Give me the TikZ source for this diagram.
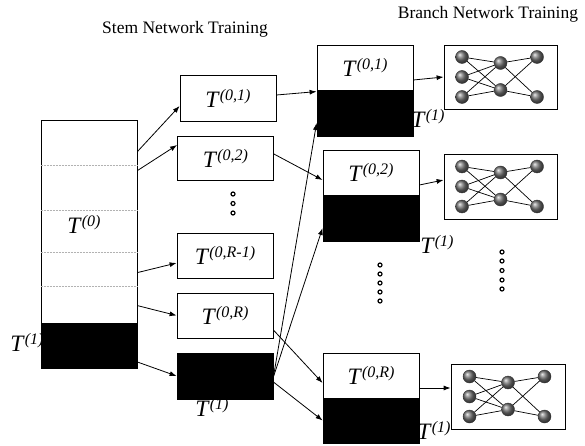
\documentclass[tikz,border=0pt]{standalone}
\usepackage{fontspec}
\setmainfont{Liberation Serif}
\usetikzlibrary{arrows.meta}
\newcommand{\Tlab}[1]{\textit{T}\raisebox{7pt}{\fontsize{16}{16}\selectfont\textit{(#1)}}}

\begin{document}
\begin{tikzpicture}[x=1pt,y=-1pt,>={Latex[length=7pt,width=5pt]},line width=0.8pt,
        box/.style={draw, rectangle, inner sep=0pt, minimum width=96pt, font=\fontsize{23.5}{27}\selectfont},
        blackbox/.style={draw, fill=black, rectangle, inner sep=0pt, minimum width=96pt},
        netbox/.style={draw, rectangle, inner sep=0pt},
        ball/.style={circle, draw=black!80, line width=0.4pt, shading=ball, ball color=gray!90!black, minimum size=13pt, inner sep=0pt},
        tlabel/.style={font=\fontsize{23.5}{27}\selectfont, inner sep=0pt},
        title/.style={font=\fontsize{17.5}{21}\selectfont}]

    \useasboundingbox (0,0) rectangle (585,446);

    \node[title] (stemtitle) at (185,29) {Stem Network Training};
    \node[title] (branchtitle) at (488,14) {Branch Network Training};

    % stem data
    \node[box, minimum height=203pt] (stem) at (89,221.5) {};
    \node[blackbox, minimum height=45pt] (stemk) at (89,345.5) {};
    \foreach \y in {165,210,252,286}
        \draw[gray!60, line width=0.5pt, dash pattern=on 2pt off 1pt] (stem.west |- 0,\y) -- (stem.east |- 0,\y);
    \node[tlabel] (stemlab) at (84,224) {\Tlab{0}};
    \node[tlabel] (stemklab) at (27,342) {\Tlab{1}};

    % subsets
    \node[box, minimum height=46pt] (t01) at (228,98) {\Tlab{0,1}};
    \node[box, minimum height=44pt] (t02) at (225.5,158) {\Tlab{0,2}};
    \node[box, minimum height=45pt] (t0r1) at (225,255.5) {\Tlab{0,R-1}};
    \node[box, minimum height=45pt] (t0r) at (225,315.5) {\Tlab{0,R}};
    \node[blackbox, minimum height=46pt] (blk) at (225,376) {};
    \node[tlabel] (blklab) at (212,407) {\Tlab{1}};
    \foreach \y in {194,203.5,213}
        \draw[line width=1.2pt, fill=white] (233,\y) circle (2pt);

    % branch data
    \node[box, minimum height=45pt] (c1) at (365,67.5) {\Tlab{0,1}};
    \node[blackbox, minimum height=46pt] (c1k) at (365,113) {};
    \node[tlabel] (c1lab) at (428,118) {\Tlab{1}};
    \node[box, minimum height=45pt] (c2) at (371,172.5) {\Tlab{0,2}};
    \node[blackbox, minimum height=46pt] (c2k) at (371,218) {};
    \node[tlabel] (c2lab) at (437,244) {\Tlab{1}};
    \node[box, minimum height=45pt] (c3) at (371,375.5) {\Tlab{0,R}};
    \node[blackbox, minimum height=45pt] (c3k) at (371,420.5) {};
    \node[tlabel] (c3lab) at (434,430) {\Tlab{1}};
    \foreach \y in {265,274,283,292,301}
        \draw[line width=1.2pt, fill=white] (380,\y) circle (2pt);

    % branch networks
    \node[netbox, minimum width=113pt, minimum height=64pt] (n1) at (500.5,77) {};
    \node[netbox, minimum width=113pt, minimum height=65pt] (n2) at (500.5,186.5) {};
    \node[netbox, minimum width=114pt, minimum height=65pt] (n3) at (508,396.5) {};
    \foreach \y in {252,261,270.5,280,289}
        \draw[line width=1.2pt, fill=white] (502,\y) circle (2pt);

    \foreach \n/\cx/\cy in {1/500.5/77, 2/500.5/186.5, 3/508/396.5} {
        \node[ball] (net\n l1) at (\cx-38.5,\cy-20) {};
        \node[ball] (net\n l2) at (\cx-38.5,\cy) {};
        \node[ball] (net\n l3) at (\cx-38.5,\cy+20) {};
        \node[ball] (net\n m1) at (\cx,\cy-14) {};
        \node[ball] (net\n m2) at (\cx,\cy+13) {};
        \node[ball] (net\n r1) at (\cx+36.5,\cy-20) {};
        \node[ball] (net\n r2) at (\cx+36.5,\cy+20) {};
        \foreach \i in {1,2,3}
            \foreach \j in {1,2}
                \draw[line width=0.7pt] (net\n l\i) -- (net\n m\j);
        \foreach \j in {1,2}
            \foreach \k in {1,2}
                \draw[line width=0.7pt] (net\n m\j) -- (net\n r\k);
    }

    \path[->]
    ([yshift=-32pt]stem.north east) edge ([yshift=-8pt]t01.west)
    ([yshift=-51pt]stem.north east) edge ([yshift=13pt]t02.west)
    ([yshift=-153pt]stem.north east) edge ([yshift=-7.5pt]t0r1.west)
    ([yshift=-186pt]stem.north east) edge (t0r.west)
    ([yshift=-16.5pt]stemk.east) edge (blk.west)
    ([yshift=3pt]t01.east) edge ([yshift=-2pt]c1k.north west)
    ([yshift=4pt]t02.east) edge ([yshift=-7.5pt]c2.west)
    ([yshift=-1pt]blk.east) edge ([yshift=-10pt]c1k.west)
    ([yshift=-1pt]blk.east) edge ([yshift=-10pt]c2k.west)
    ([yshift=-14.5pt]t0r.east) edge ([yshift=-7.5pt]c3.west)
    ([yshift=-6pt]blk.east) edge (c3k.west)
    ([yshift=-12.5pt]c1.east) edge (n1.west)
    ([yshift=-12.5pt]c2.east) edge ([yshift=6.5pt]n2.west)
    ([yshift=-12.5pt]c3.east) edge ([yshift=8.5pt]n3.west);

\end{tikzpicture}
\end{document}
